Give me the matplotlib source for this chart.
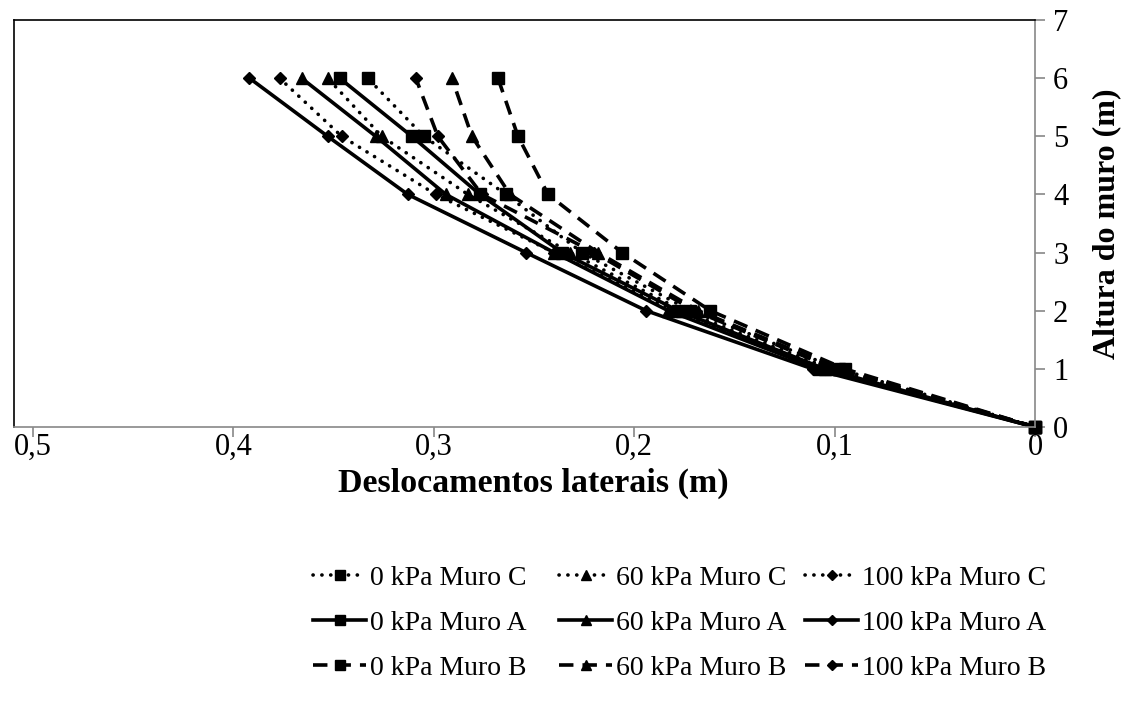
import matplotlib.pyplot as plt
import numpy as np

plt.rcParams['font.family'] = ['Liberation Serif', 'DejaVu Serif']

# heights (m)
altura = [0, 1, 2, 3, 4, 5, 6]

# lateral displacements (m)
c0 = [0, 0.098, 0.172, 0.226, 0.264, 0.305, 0.333]
c60 = [0, 0.102, 0.176, 0.232, 0.283, 0.326, 0.353]
c100 = [0, 0.104, 0.180, 0.240, 0.299, 0.346, 0.377]
a0 = [0, 0.105, 0.178, 0.236, 0.277, 0.311, 0.347]
a60 = [0, 0.108, 0.183, 0.240, 0.294, 0.329, 0.366]
a100 = [0, 0.111, 0.194, 0.254, 0.313, 0.353, 0.392]
b0 = [0, 0.095, 0.162, 0.206, 0.243, 0.258, 0.268]
b60 = [0, 0.098, 0.168, 0.218, 0.262, 0.281, 0.291]
b100 = [0, 0.100, 0.170, 0.220, 0.276, 0.298, 0.309]

xticks = [0.5, 0.4, 0.3, 0.2, 0.1, 0]
xticklabels = ['0,5', '0,4', '0,3', '0,2', '0,1', '0']
yticks = [0, 1, 2, 3, 4, 5, 6, 7]

fig = plt.figure(figsize=(11.3, 7.02), dpi=100)
ax = fig.add_axes([14 / 1130, 1 - 427 / 702, (1035 - 14) / 1130, (427 - 20) / 702])

dotted = (0, (0.05, 2.4))
dashed = (0, (4, 2.5))
series = [
    (c0, 's', dotted, '0 kPa Muro C'),
    (a0, 's', '-', '0 kPa Muro A'),
    (b0, 's', dashed, '0 kPa Muro B'),
    (c60, '^', dotted, '60 kPa Muro C'),
    (a60, '^', '-', '60 kPa Muro A'),
    (b60, '^', dashed, '60 kPa Muro B'),
    (c100, 'D', dotted, '100 kPa Muro C'),
    (a100, 'D', '-', '100 kPa Muro A'),
    (b100, 'D', dashed, '100 kPa Muro B'),
]
handles = []
for vals, mk, ls, lab in series:
    ms = 8.5 if mk == 's' else (9 if mk == '^' else 6.5)
    ln, = ax.plot(vals, altura, color='black', linestyle=ls, linewidth=2.6,
                  marker=mk, markersize=ms, label=lab, clip_on=False,
                  dash_capstyle='round' if ls == dotted else 'butt')
    handles.append(ln)

ax.set_xlim(0.5095, 0)
ax.set_ylim(0, 7)
ax.set_xticks(xticks)
ax.set_xticklabels(xticklabels)
ax.set_yticks(yticks)
ax.yaxis.tick_right()
ax.yaxis.set_label_position('right')
ax.tick_params(axis='both', labelsize=22, color='#888888', length=7, width=1.2)
ax.tick_params(axis='y', pad=6)
ax.tick_params(axis='x', pad=-3)

ax.spines['left'].set_color('black')
ax.spines['top'].set_color('black')
ax.spines['right'].set_color('#888888')
ax.spines['bottom'].set_color('#888888')
for s in ax.spines.values():
    s.set_linewidth(1.2)

ax.set_xlabel('Deslocamentos laterais (m)', fontsize=24.5, fontweight='bold')
ax.xaxis.set_label_coords((533 - 14) / (1035 - 14), -41 / 407)
ax.set_ylabel('Altura do muro (m)', fontsize=23, fontweight='bold', labelpad=17)

# Excel-like legend: three equal-width columns
for k, x0 in enumerate([294, 540, 786]):
    leg = fig.legend(handles=handles[3 * k:3 * k + 3],
                     loc='upper left', bbox_to_anchor=(x0 / 1130, 1 - 546 / 702),
                     frameon=False, fontsize=20, handlelength=1.9, markerscale=0.8,
                     handletextpad=0.15, labelspacing=0.7, borderpad=0.2)

fig.savefig('out.png', dpi=100)
